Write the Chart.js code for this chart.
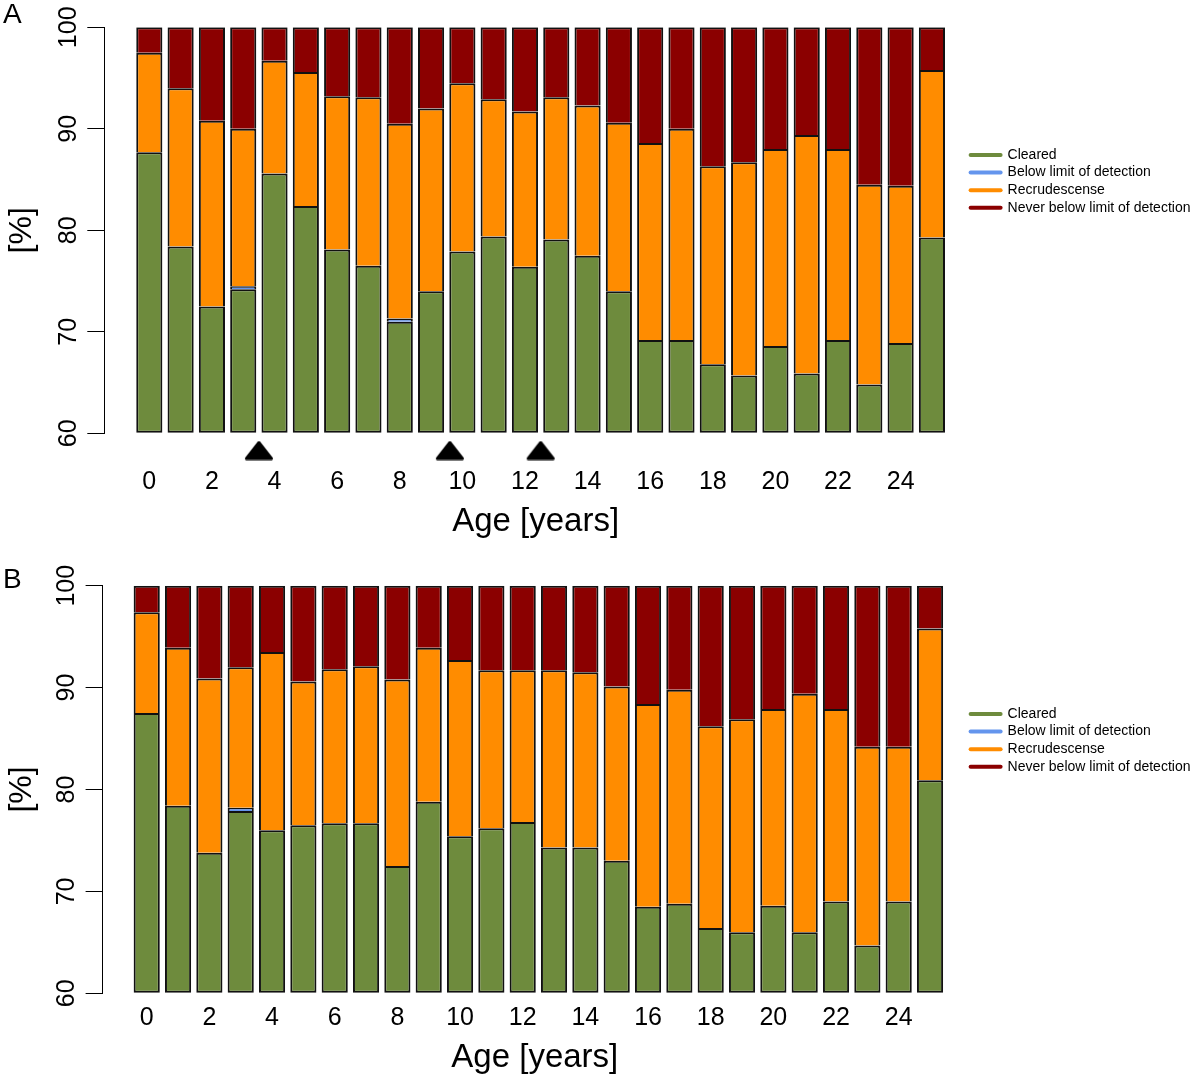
<!DOCTYPE html>
<html>
<head>
<meta charset="utf-8">
<script src="https://cdn.jsdelivr.net/npm/chart.js@4.4.1/dist/chart.umd.min.js"></script>
<style>
  body { margin: 0; background: #fff; }
  .panel { position: absolute; left: 0; width: 1200px; }
  .panel canvas { display: block; }
  .tag { position: absolute; left: 3px; font: 28px "Liberation Sans", Arial, sans-serif; line-height: 28px; color: #000; }
</style>
</head>
<body>
<div class="panel" style="top:0;height:550px">
  <canvas id="chartA" width="1200" height="550"></canvas>
  <div class="tag" style="top:0">A</div>
</div>
<div class="panel" style="top:550px;height:531px">
  <canvas id="chartB" width="1200" height="531"></canvas>
  <div class="tag" style="top:15px">B</div>
</div>
<script>
// ages on the x axis, one bar each
const ages = [0, 1, 2, 3, 4, 5, 6, 7, 8, 9, 10, 11, 12, 13, 14, 15, 16, 17, 18, 19, 20, 21, 22, 23, 24, 25];
const ageTicks = [0, 2, 4, 6, 8, 10, 12, 14, 16, 18, 20, 22, 24];
const pctTicks = [60, 70, 80, 90, 100];

// panel A, shares per outcome [%]
const clearedA = [87.7, 78.4, 72.5, 74.2, 85.6, 82.4, 78.1, 76.5, 71.0, 74.0, 77.9, 79.4, 76.4, 79.1, 77.5, 74.0, 69.2, 69.2, 66.8, 65.7, 68.6, 65.9, 69.2, 64.8, 68.9, 79.3];
const belowA   = [0, 0, 0, 0.3, 0, 0, 0, 0, 0.3, 0, 0, 0, 0, 0, 0, 0, 0, 0, 0, 0, 0, 0, 0, 0, 0, 0];
const recrudA  = [9.8, 15.6, 18.3, 15.5, 11.1, 13.2, 15.1, 16.6, 19.2, 18.0, 16.6, 13.5, 15.3, 14.0, 14.8, 16.6, 19.4, 20.8, 19.5, 21.0, 19.4, 23.5, 18.8, 19.7, 15.5, 16.5];
const neverA   = [2.5, 6.0, 9.2, 10.0, 3.3, 4.4, 6.8, 6.9, 9.5, 8.0, 5.5, 7.1, 8.3, 6.9, 7.7, 9.4, 11.4, 10.0, 13.7, 13.3, 12.0, 10.6, 12.0, 15.5, 15.6, 4.2];
// arrows under panel A
const markerAges = [3.5, 9.6, 12.5];
const markerLevel = 58.3;

// panel B
const clearedB = [87.5, 78.4, 73.8, 77.9, 76.0, 76.5, 76.7, 76.7, 72.5, 78.8, 75.4, 76.2, 76.8, 74.3, 74.3, 73.0, 68.5, 68.8, 66.4, 66.0, 68.6, 66.0, 69.0, 64.7, 69.0, 80.9];
const belowB   = [0, 0, 0, 0.3, 0, 0, 0, 0, 0, 0, 0, 0, 0, 0, 0, 0, 0, 0, 0, 0, 0, 0, 0, 0, 0, 0];
const recrudB  = [9.9, 15.5, 17.1, 13.8, 17.5, 14.1, 15.1, 15.4, 18.3, 15.1, 17.3, 15.5, 14.9, 17.4, 17.2, 17.1, 19.9, 21.0, 19.8, 20.9, 19.3, 23.4, 18.9, 19.5, 15.2, 14.9];
const neverB   = [2.6, 6.1, 9.1, 8.0, 6.5, 9.4, 8.2, 7.9, 9.2, 6.1, 7.3, 8.3, 8.3, 8.3, 8.5, 9.9, 11.6, 10.2, 13.8, 13.1, 12.1, 10.6, 12.1, 15.8, 15.8, 4.2];

const seriesNames = ['Cleared', 'Below limit of detection', 'Recrudescense', 'Never below limit of detection'];
const seriesColors = ['#6E8B3D', '#6495ED', '#FF8C00', '#8B0000'];

Chart.defaults.font.family = '"Liberation Sans", Arial, sans-serif';
Chart.defaults.color = '#000';

// filled triangle marker with rounded corners
const tri = document.createElement('canvas');
tri.width = 30; tri.height = 20;
const g = tri.getContext('2d');
g.fillStyle = g.strokeStyle = '#000';
g.lineWidth = 3; g.lineJoin = 'round';
g.beginPath(); g.moveTo(15, 2); g.lineTo(27.5, 18); g.lineTo(2.5, 18); g.closePath();
g.fill(); g.stroke();

function makeChart(id, values, p) {
  const datasets = values.map((vals, i) => ({
    label: seriesNames[i],
    data: vals,
    stack: 'age',
    backgroundColor: seriesColors[i],
    borderColor: '#111',
    borderWidth: 2,
    borderSkipped: i === 0 ? false : 'start',
    base: i === 0 ? 60 : undefined,
    categoryPercentage: 1,
    barPercentage: 0.835
  }));
  if (p.markers) {
    datasets.push({
      type: 'scatter',
      label: 'marker',
      data: p.markers.map(a => ({ x: a, y: markerLevel })),
      pointStyle: tri,
      pointRadius: 22,
      clip: false
    });
  }
  return new Chart(document.getElementById(id), {
    type: 'bar',
    data: { labels: ages, datasets: datasets },
    options: {
      responsive: false,
      animation: false,
      events: [],
      layout: { padding: { top: p.top, left: 0, right: 0, bottom: 0 } },
      scales: {
        x: {
          type: 'linear',
          min: p.xMin, max: p.xMax,
          offset: false,
          border: { display: false },
          grid: { display: false, drawTicks: false },
          afterBuildTicks: s => { s.ticks = ageTicks.map(v => ({ value: v })); },
          ticks: { autoSkip: false, maxRotation: 0, padding: p.xLabelPad, font: { size: 25 } },
          title: { display: true, text: 'Age [years]', font: { size: 33 }, padding: { top: 0, bottom: p.xTitlePad } },
          afterFit: s => { s.height = p.xHeight; }
        },
        y: {
          stacked: true,
          min: 60, max: 100,
          border: { display: true, color: '#000', width: 1 },
          grid: { drawOnChartArea: false, drawTicks: true, tickLength: 17, tickColor: '#000', tickWidth: 1 },
          afterBuildTicks: s => { s.ticks = pctTicks.map(v => ({ value: v })); },
          ticks: { minRotation: 90, maxRotation: 90, crossAlign: 'center', padding: -2.5, font: { size: 25 } },
          title: { display: true, text: '[%]', font: { size: 32 }, padding: { top: 3, bottom: 0 } },
          afterFit: s => { s.width = p.yWidth; }
        }
      },
      plugins: {
        tooltip: { enabled: false },
        legend: {
          position: 'right',
          align: 'start',
          maxWidth: 233,
          title: { display: true, text: ' ', font: { size: 14 }, padding: { top: p.legendPad, bottom: 0 } },
          labels: {
            usePointStyle: true,
            pointStyleWidth: 30,
            padding: 3.6,
            font: { size: 14 },
            color: '#000',
            generateLabels: chart => chart.data.datasets
              .filter(d => d.type !== 'scatter')
              .map((d, i) => ({
                text: d.label,
                fillStyle: d.backgroundColor,
                strokeStyle: d.backgroundColor,
                lineWidth: 4,
                lineCap: 'round',
                pointStyle: 'line',
                hidden: false,
                datasetIndex: i
              }))
          }
        }
      }
    }
  });
}

makeChart('chartA', [clearedA, belowA, recrudA, neverA], {
  top: 27.3, yWidth: 104.3, xHeight: 116.7, xLabelPad: 33.4, xTitlePad: 8,
  legendPad: 100.3, xMin: -1.438, xMax: 26.12, markers: markerAges
});
makeChart('chartB', [clearedB, belowB, recrudB, neverB], {
  top: 35.7, yWidth: 102.6, xHeight: 87.7, xLabelPad: 10, xTitlePad: 3.2,
  legendPad: 100.9, xMin: -1.408, xMax: 26.18
});
</script>
</body>
</html>
